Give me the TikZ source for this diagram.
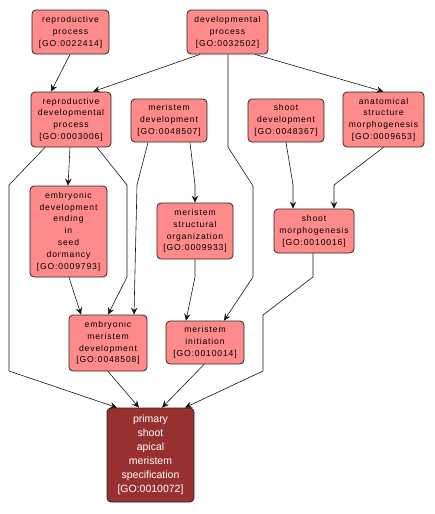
\documentclass[tikz,border=0pt]{standalone}
\usepackage{fontspec}
\setmainfont{Liberation Sans}
\newfontfamily\labfont[LetterSpace=10]{Liberation Sans}
\usetikzlibrary{arrows.meta}
\definecolor{lightred}{RGB}{255,138,138}
\definecolor{darkred}{RGB}{153,48,48}
\definecolor{edgecol}{RGB}{20,20,20}
\tikzset{
  term/.style={draw=black!85, line width=0.8pt, rounded corners=4pt, fill=lightred,
    align=center, inner sep=0pt, font=\labfont\fontsize{8.6}{11.8}\selectfont},
  focus/.style={draw=black!85, line width=0.8pt, rounded corners=4pt, fill=darkred,
    text=white, align=center, inner sep=0pt, font=\fontsize{10.5}{14}\selectfont},
  conn/.style={draw=edgecol, line width=0.6pt, -{Stealth[length=7pt,width=6.5pt,inset=2.5pt]}},
}
\begin{document}
\begin{tikzpicture}[x=1pt,y=-1pt]
\useasboundingbox (0,0) rectangle (435,514);
\node[term, minimum width=77pt, minimum height=44pt] (rp) at (70.5,32) {reproductive\\process\\{[GO:0022414]}};
\node[term, minimum width=81pt, minimum height=44pt] (dp) at (227.5,32) {developmental\\process\\{[GO:0032502]}};
\node[term, minimum width=80pt, minimum height=55pt] (rdp) at (71,119.5) {reproductive\\developmental\\process\\{[GO:0003006]}};
\node[term, minimum width=76pt, minimum height=43pt] (md) at (169,120.5) {meristem\\development\\{[GO:0048507]}};
\node[term, minimum width=76pt, minimum height=43pt] (sd) at (286,120.5) {shoot\\development\\{[GO:0048367]}};
\node[term, minimum width=81pt, minimum height=55pt] (asm) at (383.5,119.5) {anatomical\\structure\\morphogenesis\\{[GO:0009653]}};
\node[term, minimum width=77pt, minimum height=91pt] (edesd) at (68.5,231.5) {embryonic\\development\\ending\\in\\seed\\dormancy\\{[GO:0009793]}};
\node[term, minimum width=76pt, minimum height=56pt] (mso) at (195,231) {meristem\\structural\\organization\\{[GO:0009933]}};
\node[term, minimum width=80pt, minimum height=44pt] (sm) at (314,231) {shoot\\morphogenesis\\{[GO:0010016]}};
\node[term, minimum width=78pt, minimum height=56pt] (emd) at (108,343) {embryonic\\meristem\\development\\{[GO:0048508]}};
\node[term, minimum width=78pt, minimum height=43pt] (mi) at (205,342.5) {meristem\\initiation\\{[GO:0010014]}};
\node[focus, minimum width=87pt, minimum height=94pt] (ps) at (150.5,455) {primary\\shoot\\apical\\meristem\\specification\\{[GO:0010072]}};
% bend points
\coordinate (b4a) at (228,147);
\coordinate (b4b) at (253,186);
\coordinate (b4c) at (253,277);
\coordinate (b5a) at (9,185);
\coordinate (b5b) at (9,371);
\coordinate (b7a) at (127,185);
\coordinate (b7b) at (127,277);
\coordinate (b8a) at (137,185);
\coordinate (b9a) at (195,185);
\coordinate (b11a) at (195,277);
\coordinate (b12a) at (293,185);
\coordinate (b13a) at (334,185);
\coordinate (b14a) at (313,277);
\coordinate (b14b) at (263,315);
\coordinate (b14c) at (263,371);
% edges
\draw[conn] ([xshift=-0.5pt]rp.south) -- ([xshift=-20pt]rdp.north);
\draw[conn] ([xshift=-27.5pt]dp.south) -- ([xshift=22pt]rdp.north);
\draw[conn] ([xshift=27.5pt]dp.south) -- (asm.north);
\draw[conn] ([xshift=0.5pt]dp.south) -- (b4a) -- (b4b) -- (b4c) -- ([xshift=19pt]mi.north);
\draw[conn] ([xshift=-26pt]rdp.south) -- (b5a) -- (b5b) -- ([xshift=-33.5pt]ps.north);
\draw[conn] ([xshift=-1pt]rdp.south) -- ([xshift=-0.5pt]edesd.north);
\draw[conn] ([xshift=26pt]rdp.south) -- (b7a) -- (b7b) -- (emd.north);
\draw[conn] ([xshift=-21pt]md.south) -- (b8a) -- ([xshift=26pt]emd.north);
\draw[conn] ([xshift=21pt]md.south) -- (b9a) -- (mso.north);
\draw[conn] ([xshift=0.5pt]edesd.south) -- ([xshift=-27pt]emd.north);
\draw[conn] (mso.south) -- (b11a) -- ([xshift=-19pt]mi.north);
\draw[conn] (sd.south) -- (b12a) -- ([xshift=-21pt]sm.north);
\draw[conn] (asm.south) -- (b13a) -- ([xshift=20pt]sm.north);
\draw[conn] ([xshift=-1pt]sm.south) -- (b14a) -- (b14b) -- (b14c) -- ([xshift=34.5pt]ps.north);
\draw[conn] (emd.south) -- ([xshift=-11.5pt]ps.north);
\draw[conn] ([xshift=-1pt]mi.south) -- ([xshift=11.5pt]ps.north);
\end{tikzpicture}
\end{document}
